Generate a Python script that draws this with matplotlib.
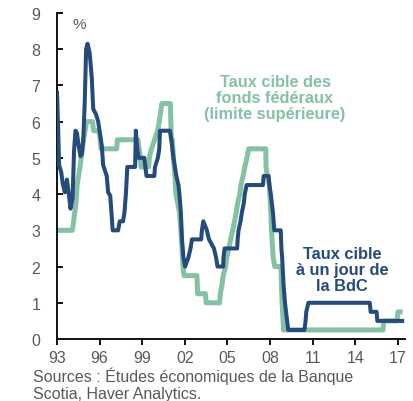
import matplotlib
matplotlib.use("Agg")
import matplotlib.pyplot as plt

plt.rcParams['font.family'] = ['Liberation Sans', 'DejaVu Sans']

# Fed funds target (upper limit), %
fed_x = [1993.0, 1994.08, 1994.17, 1994.25, 1994.33, 1994.42, 1994.62, 1994.87, 1995.08, 1995.5,
         1995.58, 1995.95, 1996.04, 1996.1, 1997.2, 1997.25, 1998.7, 1998.78, 1998.87, 1998.92,
         1999.45, 1999.5, 1999.65, 1999.87, 2000.08, 2000.2, 2000.38, 2000.98, 2001.05, 2001.12,
         2001.2, 2001.3, 2001.37, 2001.5, 2001.62, 2001.72, 2001.8, 2001.87, 2001.95, 2002.85,
         2002.9, 2003.45, 2003.5, 2004.45, 2004.5, 2004.62, 2004.7, 2004.87, 2004.95, 2005.1,
         2005.22, 2005.37, 2005.5, 2005.62, 2005.72, 2005.87, 2005.95, 2006.1, 2006.22, 2006.37,
         2006.5, 2007.7, 2007.72, 2007.8, 2007.95, 2008.05, 2008.1, 2008.22, 2008.33, 2008.77,
         2008.8, 2008.85, 2008.95, 2015.95, 2016.0, 2016.95, 2017.0, 2017.15]
fed_y = [3.0, 3.0, 3.25, 3.5, 3.75, 4.25, 4.75, 5.5, 6.0, 6.0,
         5.75, 5.75, 5.5, 5.25, 5.25, 5.5, 5.5, 5.25, 5.0, 4.75,
         4.75, 5.0, 5.25, 5.5, 5.75, 6.0, 6.5, 6.5, 5.5, 5.5,
         5.0, 4.5, 4.0, 3.75, 3.5, 3.0, 2.5, 2.0, 1.75, 1.75,
         1.25, 1.25, 1.0, 1.0, 1.25, 1.5, 1.75, 2.0, 2.25, 2.5,
         2.75, 3.0, 3.25, 3.5, 3.75, 4.0, 4.25, 4.5, 4.75, 5.0,
         5.25, 5.25, 4.75, 4.5, 4.25, 3.5, 3.0, 2.25, 2.0, 2.0,
         1.5, 1.0, 0.25, 0.25, 0.5, 0.5, 0.75, 0.75]

# Bank of Canada overnight target, %
boc_x = [1993.0, 1993.08, 1993.15, 1993.3, 1993.4, 1993.55, 1993.7, 1993.85, 1993.95, 1994.1,
         1994.2, 1994.3, 1994.4, 1994.5, 1994.65, 1994.75, 1994.85, 1994.95, 1995.05, 1995.15,
         1995.3, 1995.45, 1995.55, 1995.75, 1995.9, 1996.15, 1996.25, 1996.5, 1996.6, 1996.75,
         1996.85, 1996.92, 1997.3, 1997.42, 1997.65, 1997.75, 1997.85, 1997.95, 1998.5, 1998.55,
         1998.65, 1998.75, 1998.82, 1999.15, 1999.22, 1999.3, 1999.85, 1999.9, 2000.1, 2000.2,
         2000.25, 2000.95, 2001.05, 2001.2, 2001.3, 2001.4, 2001.55, 2001.62, 2001.72, 2001.8,
         2001.9, 2002.02, 2002.25, 2002.4, 2002.5, 2003.15, 2003.2, 2003.3, 2003.55, 2003.7,
         2004.05, 2004.2, 2004.3, 2004.7, 2004.72, 2004.8, 2005.68, 2005.72, 2005.78, 2005.92,
         2006.02, 2006.15, 2006.22, 2006.35, 2007.5, 2007.55, 2007.9, 2007.95, 2008.05, 2008.2,
         2008.3, 2008.75, 2008.8, 2008.85, 2008.95, 2009.05, 2009.2, 2009.28, 2010.42, 2010.5,
         2010.55, 2010.7, 2015.02, 2015.08, 2015.5, 2015.55, 2017.3]
boc_y = [6.8, 5.8, 4.8, 4.6, 4.3, 4.05, 4.4, 3.95, 3.6, 3.9,
         5.2, 5.75, 5.7, 5.4, 5.05, 5.1, 5.5, 6.5, 8.0, 8.15,
         7.9, 7.2, 6.35, 6.2, 6.0, 5.35, 4.8, 4.5, 4.05, 3.95,
         3.4, 3.0, 3.0, 3.25, 3.25, 3.5, 4.0, 4.75, 4.75, 5.75,
         5.25, 5.0, 5.0, 5.0, 4.75, 4.5, 4.5, 4.75, 5.0, 5.25,
         5.75, 5.75, 5.5, 5.0, 4.75, 4.5, 4.25, 4.0, 3.5, 2.75,
         2.25, 2.0, 2.25, 2.5, 2.75, 2.75, 3.0, 3.25, 3.0, 2.75,
         2.5, 2.25, 2.0, 2.0, 2.25, 2.5, 2.5, 2.75, 3.0, 3.25,
         3.5, 3.75, 4.0, 4.25, 4.25, 4.5, 4.5, 4.25, 4.0, 3.5,
         3.0, 3.0, 2.5, 2.25, 1.5, 1.0, 0.5, 0.25, 0.25, 0.5,
         0.75, 1.0, 1.0, 0.75, 0.75, 0.5, 0.5]

x_ticks = [1993, 1996, 1999, 2002, 2005, 2008, 2011, 2014, 2017]
x_labels = ['93', '96', '99', '02', '05', '08', '11', '14', '17']
y_ticks = [0, 1, 2, 3, 4, 5, 6, 7, 8, 9]

GREEN = '#85c1a3'
BLUE = '#254a7c'
GRAY = '#595959'

fig = plt.figure(figsize=(4.13, 4.02), dpi=100)
ax = fig.add_axes([57/413, 62/402, (405-57)/413, (340-14)/402])

ax.plot(fed_x, fed_y, color=GREEN, lw=3.6, solid_joinstyle='round', zorder=2)
ax.plot(boc_x, boc_y, color=BLUE, lw=2.9, solid_joinstyle='round', zorder=3)

ax.set_xlim(1993, 2017.5)
ax.set_ylim(0, 9)
ax.set_xticks(x_ticks)
ax.set_xticklabels(x_labels)
ax.set_yticks(y_ticks)

for s in ['top', 'right']:
    ax.spines[s].set_visible(False)
for s in ['left', 'bottom']:
    ax.spines[s].set_linewidth(1.4)
    ax.spines[s].set_color('#111111')

ax.tick_params(axis='y', direction='in', length=4, width=1.4, pad=12,
               labelsize=11.5, labelcolor=GRAY, color='#111111')
ax.tick_params(axis='x', direction='out', length=4, width=1.4, pad=4,
               labelsize=11.5, labelcolor=GRAY, color='#111111')

ax.text(1994.1, 8.7, '%', fontsize=11, color=GRAY, ha='left', va='center')

ax.text(2008.35, 6.66, 'Taux cible des\nfonds fédéraux\n(limite supérieure)',
        fontsize=11.8, fontweight='bold', color=GREEN, ha='center', va='center',
        linespacing=1.08)
ax.text(2013.05, 1.93, 'Taux cible\nà un jour de\nla BdC',
        fontsize=11.8, fontweight='bold', color=BLUE, ha='center', va='center',
        linespacing=1.08)

fig.text(33/413, 1 - 376/402, 'Sources : Études économiques de la Banque',
         fontsize=11.5, color=GRAY, ha='left', va='center')
fig.text(33/413, 1 - 395/402, 'Scotia, Haver Analytics.',
         fontsize=11.5, color=GRAY, ha='left', va='center')

fig.savefig('out.png', dpi=100)
